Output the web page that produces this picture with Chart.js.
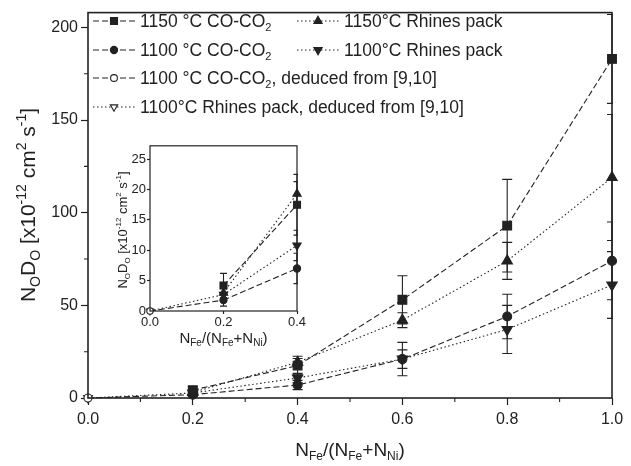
<!DOCTYPE html>
<html>
<head>
<meta charset="utf-8">
<script src="https://cdn.jsdelivr.net/npm/chart.js@4.4.0/dist/chart.umd.min.js"></script>
<style>
    html, body { margin: 0; padding: 0; background: #fff; }
    #wrap { position: relative; width: 631px; height: 466px; }
    #main { position: absolute; left: 0; top: 0; }
    #inset { position: absolute; left: 97px; top: 137px; }
</style>
</head>
<body>
<div id="wrap">
    <canvas id="main" width="631" height="466"></canvas>
    <canvas id="inset" width="212" height="216"></canvas>
</div>
<script>
/* =========================================
   DATOS
   ========================================= */
const xVals = [0.2, 0.4, 0.6, 0.8, 1.0];
const co1150 = [4.2, 17.5, 53, 93, 183];
const co1150Err = [2, 5, 13, 25, 24];
const co1100 = [1.8, 7, 21, 44, 74];
const co1100Err = [1, 2.5, 9, 12, 21];
const rh1150 = [3, 19.3, 42, 74, 119];
const rh1150Err = [1, 2, 4, 10, 34];
const rh1100 = [2.7, 10.8, 21, 37, 61];
const rh1100Err = [1, 2.5, 5, 13, 18];
// puntos deducidos de [9,10] (x = 0) unidos al primer punto medido
const dedX = [0, 0.2];
const dedCO = [0, 1.8];
const dedRh = [0, 2.7];

const xTicksMain = [0, 0.2, 0.4, 0.6, 0.8, 1.0];
const yTicksMain = [0, 50, 100, 150, 200];
const xTicksInset = [0, 0.2, 0.4];
const yTicksInset = [0, 5, 10, 15, 20, 25];

const INK = '#222';
const FONT = "'Liberation Sans', Arial, sans-serif";
const DASH = [6, 3];
const DOT = [1.5, 2.5];

/* =========================================
   UTILIDADES
   ========================================= */
function pts(xs, ys) {
    return ys.map((y, i) => ({ x: xs[i], y: y }));
}

// texto con subíndices / superíndices: [[texto, 'n'|'sub'|'sup'], ...]
function richWidth(ctx, segs, size) {
    let w = 0;
    segs.forEach(([t, k]) => {
        ctx.font = (k === 'n' ? size : Math.round(size * 0.65)) + 'px ' + FONT;
        w += ctx.measureText(t).width;
    });
    return w;
}
function drawRich(ctx, segs, x, y, size) {
    ctx.textBaseline = 'alphabetic';
    ctx.textAlign = 'left';
    segs.forEach(([t, k]) => {
        const s = k === 'n' ? size : Math.round(size * 0.65);
        ctx.font = s + 'px ' + FONT;
        let dy = 0;
        if (k === 'sub') dy = size * 0.22;
        if (k === 'sup') dy = -size * 0.45;
        ctx.fillText(t, x, y + dy);
        x += ctx.measureText(t).width;
    });
}

const xTitle = [['N', 'n'], ['Fe', 'sub'], ['/(N', 'n'], ['Fe', 'sub'], ['+N', 'n'], ['Ni', 'sub'], [')', 'n']];
const yTitle = [['N', 'n'], ['O', 'sub'], ['D', 'n'], ['O', 'sub'], [' [x10', 'n'], ['-12', 'sup'], [' cm', 'n'], ['2', 'sup'], [' s', 'n'], ['-1', 'sup'], [']', 'n']];

function makeSets(sc, limit) {
    const keep = arr => arr.filter((_, i) => xVals[i] <= limit + 1e-9);
    const base = { borderColor: INK, backgroundColor: INK, pointBorderColor: INK, pointBackgroundColor: INK, borderWidth: 1.1, clip: false, tension: 0 };
    return [
        Object.assign({}, base, { label: '1150 °C CO-CO2', data: pts(xVals, keep(co1150)), errs: co1150Err, borderDash: DASH, pointStyle: 'rect', pointRadius: 6.2 * sc }),
        Object.assign({}, base, { label: '1100 °C CO-CO2', data: pts(xVals, keep(co1100)), errs: co1100Err, borderDash: DASH, pointStyle: 'circle', pointRadius: 4.5 * sc }),
        Object.assign({}, base, { label: '1150°C Rhines pack', data: pts(xVals, keep(rh1150)), errs: rh1150Err, borderDash: DOT, pointStyle: 'triangle', pointRadius: 6 * sc }),
        Object.assign({}, base, { label: '1100°C Rhines pack', data: pts(xVals, keep(rh1100)), errs: rh1100Err, borderDash: DOT, pointStyle: 'triangle', pointRotation: 180, pointRadius: 6 * sc }),
        Object.assign({}, base, { label: '1100 °C CO-CO2, deduced from [9,10]', data: pts(dedX, dedCO), borderDash: DASH, pointStyle: 'circle', pointBackgroundColor: '#fff', pointRadius: [4 * sc, 0] }),
        Object.assign({}, base, { label: '1100°C Rhines pack, deduced from [9,10]', data: pts(dedX, dedRh), borderDash: DOT, pointStyle: 'triangle', pointRotation: 180, pointBackgroundColor: '#fff', pointRadius: [5 * sc, 0] })
    ];
}

/* =========================================
   PLUGINS
   ========================================= */
// barras de error + marco + ticks menores
const extras = {
    id: 'extras',
    beforeDatasetsDraw(chart, args, o) {
        const ctx = chart.ctx, xs = chart.scales.x, ys = chart.scales.y, a = chart.chartArea;
        ctx.save();
        ctx.beginPath();
        ctx.rect(a.left - 1, a.top, a.right - a.left + 2, a.bottom - a.top);
        ctx.clip();
        ctx.strokeStyle = INK;
        ctx.lineWidth = 1.1;
        chart.data.datasets.forEach(ds => {
            if (!ds.errs) return;
            ds.data.forEach((p, i) => {
                const e = ds.errs[i];
                const x = xs.getPixelForValue(p.x);
                const y1 = ys.getPixelForValue(p.y + e);
                const y2 = ys.getPixelForValue(Math.max(p.y - e, 0));
                ctx.beginPath();
                ctx.moveTo(x, y1); ctx.lineTo(x, y2);
                ctx.moveTo(x - o.cap, y1); ctx.lineTo(x + o.cap, y1);
                ctx.moveTo(x - o.cap, y2); ctx.lineTo(x + o.cap, y2);
                ctx.stroke();
            });
        });
        ctx.restore();
    },
    afterDraw(chart, args, o) {
        const ctx = chart.ctx, xs = chart.scales.x, ys = chart.scales.y, a = chart.chartArea;
        ctx.save();
        ctx.strokeStyle = INK;
        ctx.lineWidth = o.frame;
        ctx.strokeRect(a.left, a.top, a.right - a.left, a.bottom - a.top);
        ctx.lineWidth = 1.1;
        ctx.beginPath();
        const xt = xs.ticks.map(t => t.value), yt = ys.ticks.map(t => t.value);
        for (let i = 0; i < xt.length - 1; i++) {
            const x = xs.getPixelForValue((xt[i] + xt[i + 1]) / 2);
            ctx.moveTo(x, a.bottom); ctx.lineTo(x, a.bottom + o.minor);
        }
        for (let i = 0; i < yt.length - 1; i++) {
            const y = ys.getPixelForValue((yt[i] + yt[i + 1]) / 2);
            ctx.moveTo(a.left, y); ctx.lineTo(a.left - o.minor, y);
        }
        ctx.stroke();

        // títulos de ejes
        ctx.fillStyle = INK;
        const wx = richWidth(ctx, xTitle, o.xSize);
        drawRich(ctx, xTitle, (a.left + a.right) / 2 - wx / 2, o.xTitleY, o.xSize);
        const wy = richWidth(ctx, yTitle, o.ySize);
        ctx.translate(o.yTitleX, o.yTitleMid);
        ctx.rotate(-Math.PI / 2);
        drawRich(ctx, yTitle, -wy / 2, 0, o.ySize);
        ctx.restore();
    }
};

// leyenda dibujada a mano (dos columnas, subíndices)
const legendItems = [
    { ds: 0, x: 93, y: 21, text: [['1150 °C CO-CO', 'n'], ['2', 'sub']] },
    { ds: 2, x: 297, y: 21, text: [['1150°C Rhines pack', 'n']] },
    { ds: 1, x: 93, y: 50, text: [['1100 °C CO-CO', 'n'], ['2', 'sub']] },
    { ds: 3, x: 297, y: 50, text: [['1100°C Rhines pack', 'n']] },
    { ds: 4, x: 93, y: 78, text: [['1100 °C CO-CO', 'n'], ['2', 'sub'], [', deduced from [9,10]', 'n']] },
    { ds: 5, x: 93, y: 107, text: [['1100°C Rhines pack, deduced from [9,10]', 'n']] }
];
const customLegend = {
    id: 'customLegend',
    afterDraw(chart) {
        const ctx = chart.ctx;
        ctx.save();
        legendItems.forEach(it => {
            const ds = chart.data.datasets[it.ds];
            ctx.strokeStyle = INK;
            ctx.lineWidth = 1.1;
            ctx.setLineDash(ds.borderDash);
            ctx.beginPath();
            ctx.moveTo(it.x, it.y); ctx.lineTo(it.x + 43, it.y);
            ctx.stroke();
            ctx.setLineDash([]);
            ctx.fillStyle = Array.isArray(ds.pointRadius) || ds.pointBackgroundColor === '#fff' ? '#fff' : INK;
            const r = Array.isArray(ds.pointRadius) ? ds.pointRadius[0] * 0.85 : ds.pointRadius * 0.8;
            Chart.helpers.drawPoint(ctx, { pointStyle: ds.pointStyle, rotation: ds.pointRotation || 0, radius: r, borderWidth: 1 }, it.x + 21, it.y);
            ctx.fillStyle = INK;
            drawRich(ctx, it.text, it.x + 47, it.y + 6, 17.5);
        });
        ctx.restore();
    }
};

function axisOpts(ticksArr, min, max, fmt, fitKey, fitVal, fontSize, tickLen, pad) {
    return {
        type: 'linear', min: min, max: max,
        afterFit: s => { s[fitKey] = fitVal; },
        afterBuildTicks: s => { s.ticks = ticksArr.map(v => ({ value: v })); },
        ticks: { callback: fmt, color: INK, font: { family: FONT, size: fontSize }, padding: pad, maxRotation: 0, autoSkip: false },
        grid: { drawOnChartArea: false, tickLength: tickLen, tickColor: INK, tickWidth: 1.2 },
        border: { display: false }
    };
}

/* =========================================
   GRÁFICO PRINCIPAL
   ========================================= */
new Chart(document.getElementById('main').getContext('2d'), {
    type: 'line',
    data: { datasets: makeSets(1, 1.0) },
    options: {
        responsive: false, animation: false,
        layout: { padding: { top: 7, right: 19, left: 0, bottom: 0 } },
        plugins: {
            legend: { display: false }, tooltip: { enabled: false },
            extras: { cap: 5, frame: 1.6, minor: 4, xSize: 19, xTitleY: 456, ySize: 21, yTitleX: 35, yTitleMid: 205 }
        },
        scales: {
            x: axisOpts(xTicksMain, 0, 1, v => v.toFixed(1), 'height', 68, 16, 7, 5),
            y: axisOpts(yTicksMain, 0, 208, v => String(v), 'width', 88, 16, 7, 3)
        }
    },
    plugins: [extras, customLegend]
});

/* =========================================
   GRÁFICO INSERTADO
   ========================================= */
new Chart(document.getElementById('inset').getContext('2d'), {
    type: 'line',
    data: { datasets: makeSets(0.8, 0.4) },
    options: {
        responsive: false, animation: false,
        layout: { padding: { top: 8, right: 12, left: 0, bottom: 0 } },
        plugins: {
            legend: { display: false }, tooltip: { enabled: false },
            extras: { cap: 3.5, frame: 1.2, minor: 0, xSize: 15, xTitleY: 206, ySize: 13, yTitleX: 30, yTitleMid: 93 }
        },
        scales: {
            x: axisOpts(xTicksInset, 0, 0.4, v => v.toFixed(1), 'height', 42, 13, 3, 1),
            y: axisOpts(yTicksInset, 0, 27.2, v => String(v), 'width', 53, 13, 3, 1)
        }
    },
    plugins: [extras]
});
</script>
</body>
</html>
